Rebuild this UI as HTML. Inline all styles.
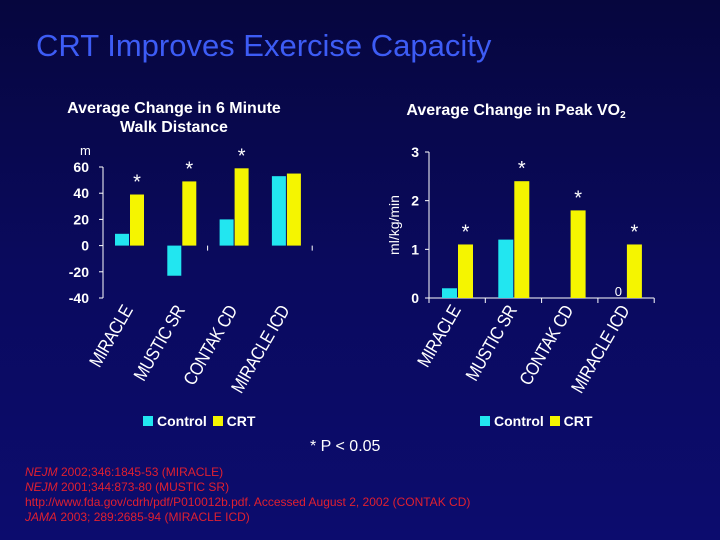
<!DOCTYPE html>
<html><head><meta charset="utf-8"><style>
html,body{margin:0;padding:0}
body{width:720px;height:540px;overflow:hidden;background:linear-gradient(180deg,#06063e 0%,#0a0a5e 50%,#0c0c6e 100%);font-family:"Liberation Sans",sans-serif;position:relative}
.t{position:absolute;white-space:nowrap}
</style></head><body>
<div class="t" style="left:36px;top:28px;font-size:31px;color:#3d5cf5">CRT Improves Exercise Capacity</div>
<svg width="720" height="540" style="position:absolute;left:0;top:0" font-family="Liberation Sans, sans-serif">
<text x="174" y="113" fill="#fff" font-size="16" font-weight="bold" text-anchor="middle">Average Change in 6 Minute</text>
<text x="174" y="132" fill="#fff" font-size="16" font-weight="bold" text-anchor="middle">Walk Distance</text>
<text x="80" y="155" fill="#fff" font-size="13">m</text>
<text x="516" y="115" fill="#fff" font-size="16" font-weight="bold" text-anchor="middle">Average Change in Peak VO<tspan font-size="10" dy="3">2</tspan></text>
<text transform="translate(399,225) rotate(-90)" fill="#fff" font-size="14" text-anchor="middle">ml/kg/min</text>
<g id="left"></g><g id="right"></g>
</svg>
<div class="t" style="left:143px;top:413px;font-size:14px;font-weight:bold;color:#fff"><span style="display:inline-block;width:10px;height:10px;background:#22e6f0;margin-right:4px"></span>Control <span style="display:inline-block;width:10px;height:10px;background:#f5f500;margin:0 4px 0 2px"></span>CRT</div>
<div class="t" style="left:480px;top:413px;font-size:14px;font-weight:bold;color:#fff"><span style="display:inline-block;width:10px;height:10px;background:#22e6f0;margin-right:4px"></span>Control <span style="display:inline-block;width:10px;height:10px;background:#f5f500;margin:0 4px 0 2px"></span>CRT</div>
<div class="t" style="left:310px;top:438px;font-size:16px;color:#fff">* P &lt; 0.05</div>
<div class="t" style="left:25px;top:465px;font-size:12px;line-height:15px;color:#e02030">
<div><i>NEJM</i> 2002;346:1845-53 (MIRACLE)</div>
<div><i>NEJM</i> 2001;344:873-80 (MUSTIC SR)</div>
<div>http://www.fda.gov/cdrh/pdf/P010012b.pdf. Accessed August 2, 2002 (CONTAK CD)</div>
<div><i>JAMA</i> 2003; 289:2685-94 (MIRACLE ICD)</div>
</div>
<script>
const categories=["MIRACLE","MUSTIC SR","CONTAK CD","MIRACLE ICD"];
const walkControl=[9,-23,20,53];
const walkCRT=[39,49,59,55];
const walkSig=[true,true,true,false];
const walkTicks=[60,40,20,0,-20,-40];
const vo2Control=[0.2,1.2,0,0];
const vo2CRT=[1.1,2.4,1.8,1.1];
const vo2Sig=[true,true,true,true];
const vo2Ticks=[3,2,1,0];
const NS="http://www.w3.org/2000/svg";
function mk(p,tag,a){const e=document.createElementNS(NS,tag);for(const k in a)e.setAttribute(k,a[k]);p.appendChild(e);return e;}
function chart(g,o){
 const y=v=>o.y0+(v-o.vmin)/(o.vmax-o.vmin)*(o.y1-o.y0);
 const x=i=>o.x0+i*o.cw;
 const ax=mk(g,'line',{x1:o.x0,x2:o.x0,y1:y(o.vmax),y2:y(o.vmin),stroke:'#fff','stroke-width':1});
 
 const bx=mk(g,'line',{x1:o.x0,x2:x(categories.length),y1:y(0),y2:y(0),stroke:'#fff','stroke-width':1});
 
 if(!o.zeroLine)bx.setAttribute('stroke-opacity','0');
 for(let i=(o.zeroLine?0:2);i<=categories.length;i+=(o.zeroLine?1:2)){const t=mk(g,'line',{x1:x(i),x2:x(i),y1:y(0),y2:y(0)+5,stroke:'#fff'});}
 o.ticks.forEach(v=>{
  const t=mk(g,'line',{x1:o.x0-4,x2:o.x0,y1:y(v),y2:y(v),stroke:'#fff'});
  
  const l=mk(g,'text',{x:o.lx,y:y(v)+5,fill:'#fff','font-size':14,'font-weight':'bold','text-anchor':'end'});l.textContent=v;
  
 });
 categories.forEach((c,i)=>{
  const cv=o.ctrl[i],tv=o.crt[i];
  const r1=mk(g,'rect',{x:x(i)+o.b1,y:Math.min(y(cv),y(0)),width:o.bw,height:Math.abs(y(cv)-y(0)),fill:'#22e6f0'});
  
  const r2=mk(g,'rect',{x:x(i)+o.b1+o.bw+1,y:Math.min(y(tv),y(0)),width:o.bw,height:Math.abs(y(tv)-y(0)),fill:'#f5f500'});
  
  if(o.sig[i]){const s=mk(g,'text',{x:x(i)+o.b1+o.bw*1.5+1,y:y(tv)-6,fill:'#fff','font-size':20,'text-anchor':'middle'});s.textContent='*';
   }
  if(o.zeroLabel&&cv===0&&i===3){const z=mk(g,'text',{x:x(i)+o.b1+o.bw/2,y:y(0)-2,fill:'#fff','font-size':13,'text-anchor':'middle'});z.textContent='0';
   }
  const cx=x(i)+o.cw/2+4, cy=o.labelY;
  const l=mk(g,'text',{transform:`translate(${cx},${cy}) rotate(-60) scale(1,1.15)`,fill:'#fff','font-size':16,'text-anchor':'end','letter-spacing':'-0.5'});l.textContent=c;
  
 });
}
chart(document.getElementById('left'),{x0:103,cw:52.3,y0:298,y1:167,vmin:-40,vmax:60,ticks:walkTicks,lx:89,ctrl:walkControl,crt:walkCRT,sig:walkSig,b1:12,bw:14,labelY:310,zeroLine:false});
chart(document.getElementById('right'),{x0:429,cw:56.3,y0:298,y1:152,vmin:0,vmax:3,ticks:vo2Ticks,lx:419,ctrl:vo2Control,crt:vo2CRT,sig:vo2Sig,b1:13,bw:15,labelY:310,zeroLine:true,zeroLabel:true});
</script>
</body></html>
